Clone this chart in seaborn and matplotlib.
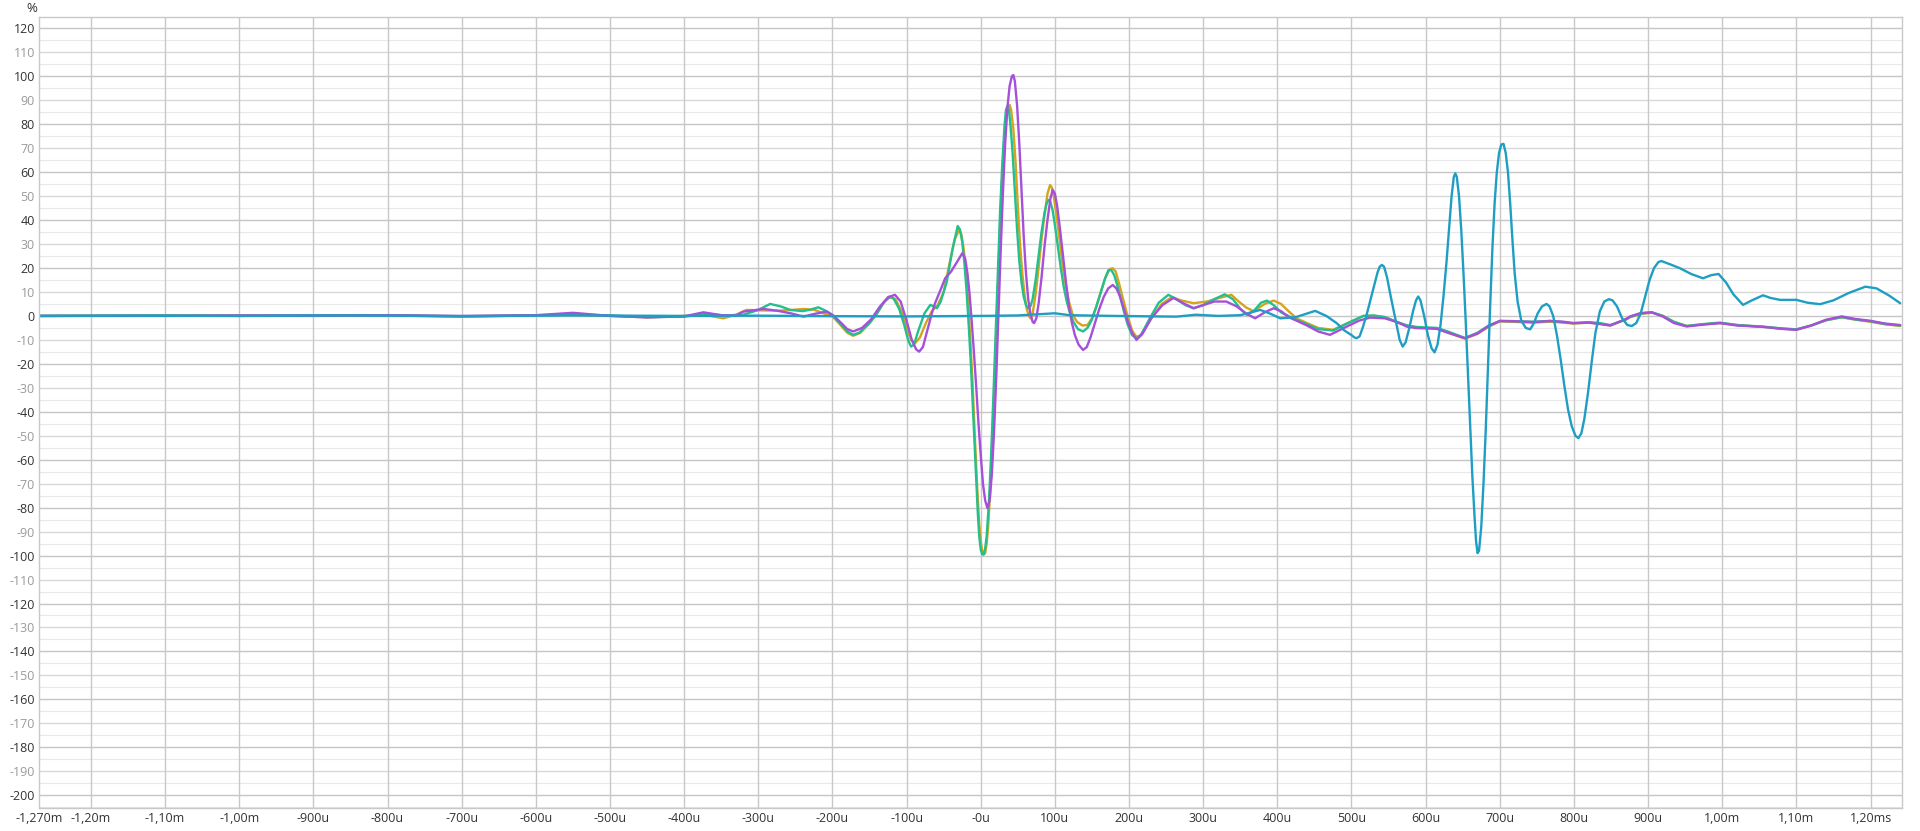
import pandas as pd
import numpy as np
import matplotlib
matplotlib.use('Agg')
import matplotlib.pyplot as plt
import seaborn as sns

# time in microseconds, amplitude in %
yellow_t = [-1270, -1100, -1000, -900, -800, -700, -600, -550, -500, -450, -400, -375, -360, -347, -330, -316, -295, -271, -255, -239, -225, -212, -200, -190, -180, -172, -162, -150, -140, -130, -122, -115, -107, -100, -94, -88.6, -82, -74, -66, -58, -50, -42, -35,
            -29, -26, -23, -20, -17, -14, -11, -8, -5, -2, 0, 2, 4, 6, 8, 10, 13, 16, 19, 22, 25, 28, 31, 34, 37, 39, 41, 44, 47, 50, 53, 56, 59, 62, 65, 67, 70, 74, 78, 82, 86, 90, 93.5, 96, 99, 103, 107, 111, 115, 119, 124, 130, 137, 144, 150, 156, 162, 168, 174, 178, 182, 187, 192, 198, 204,
            210, 216, 230, 244, 257.6, 270, 287, 305, 322, 338, 348, 358, 368, 383, 395, 405, 415, 426, 440, 455, 475, 495, 516, 530, 545, 560, 575, 588, 600, 615, 630, 653, 670, 685, 700, 720, 745, 768, 785, 799, 820, 835, 849, 870, 876, 890, 905, 920, 935, 952, 975, 997, 1020, 1056, 1080, 1100, 1120, 1140, 1161, 1180, 1199, 1220, 1240]
yellow_v = [0, 0.1, 0.2, 0, 0.3, -0.2, 0.3, 0.5, 0, -0.6, 0, 0.6, -0.3, -1, 0.5, 2.5, 2.3, 2.2, 2.5, 2.9, 2.6, 1.1, -0.2, -3.5, -7, -8.3, -7, -3, 1, 6, 7.8, 7, 2, -5, -10, -11.4, -9, -3, 2, 4.5, 10, 22, 32,
            35.9, 34, 28, 19, 6, -10, -28, -50, -70, -87, -94, -98, -99.5, -99, -95, -88, -72, -50, -25, 2, 28, 52, 70, 82, 87.5, 88, 86, 78, 64, 46, 30, 18, 9, 3, 0, -1, 1, 9, 20, 32, 42, 51, 54.6, 53.5, 49, 40, 30, 20, 12, 6, 0.5, -2.5, -4, -3.8, -1, 4, 10, 16, 19.5, 19.9, 18.5, 13, 7, 0, -6,
            -8.8, -8, -1, 5, 7.8, 6.5, 5.3, 6, 7.5, 8.8, 6, 3.5, 2, 5, 6.4, 5, 2, -1, -3, -5, -5.8, -3, 0, 0, -0.5, -2.4, -4, -4.8, -5, -5.2, -7, -9.5, -7.5, -4.5, -2.3, -2.5, -2.8, -2.4, -2.8, -3.2, -2.8, -3.2, -4, -1.5, -0.5, 0.8, 1.4, 0, -2.5, -4.2, -3.5, -3, -3.8, -4.6, -5.3, -5.7, -4, -1.8, -0.6, -1.6, -2.4, -3.5, -4.2]

green_t = [-1270, -1100, -1000, -900, -800, -700, -600, -550, -500, -450, -400, -370, -345, -320, -300, -284, -270, -257, -240, -230, -219, -208, -200, -190, -180, -172, -164, -150, -140, -132, -124, -118, -110, -103, -98, -94, -90, -84, -76, -68, -62, -59, -54, -46, -38,
           -31, -28, -25, -22, -19, -16, -13, -10, -7, -4, -2, 0, 2, 4, 6, 8, 11, 14, 17, 20, 23, 26, 29, 32, 34, 36, 38, 40, 43, 46, 49, 52, 55, 58, 61, 64, 67, 70, 74, 78, 82, 86, 89, 91.5, 94, 97, 100, 104, 108, 112, 116, 120, 125, 131, 138, 144, 150, 156, 162, 167, 172, 176, 180, 184, 188, 193, 198, 204,
           210, 216, 228, 240, 253, 264, 276, 287, 300, 315, 329, 340, 350, 359, 368, 378, 386, 395, 405, 426, 440, 455, 475, 495, 516, 530, 545, 560, 575, 588, 600, 615, 630, 653, 670, 685, 700, 720, 745, 768, 785, 799, 820, 835, 849, 870, 876, 890, 905, 920, 935, 952, 975, 997, 1020, 1056, 1080, 1100, 1120, 1140, 1161, 1180, 1199, 1220, 1240]
green_v = [0, 0.2, 0, 0.3, 0.2, -0.3, 0.2, 0.6, 0.2, -0.5, -0.3, 0.8, 0.2, 0.5, 2.5, 5, 4, 2.5, 2, 2.6, 3.6, 2, 0.4, -3, -6.5, -7.9, -7, -3, 1, 5, 8, 7.5, 3, -4, -10, -12.8, -12, -6, 1, 4.6, 3.8, 3.2, 6, 14, 28,
           37.5, 36, 31, 22, 10, -5, -22, -42, -63, -82, -92, -97.5, -99.5, -99.5, -97, -92, -78, -58, -34, -8, 18, 43, 63, 79, 86, 87.6, 86, 80, 68, 52, 36, 23, 14, 8, 4.5, 3.2, 4, 7, 15, 25, 35, 43, 47, 48.4, 47.5, 44, 38, 29, 20, 12, 6, 1.5, -2.5, -5.5, -6.5, -5, -1.5, 4, 10, 15, 19, 19.2, 17, 13, 8, 2, -3.5, -8,
           -9.3, -8, -1, 5.5, 8.8, 7, 4.5, 3.2, 4.5, 7, 9, 7, 3, 0.4, 2, 5.5, 6.4, 4.5, 1.5, -1.7, -3.5, -5.5, -6.1, -3, 0, 0.2, -0.5, -2.4, -4, -4.6, -4.8, -5, -6.5, -9.2, -7, -4, -2.1, -2.2, -2.4, -2.1, -2.6, -3, -2.6, -3, -3.8, -1.5, -0.3, 1, 1.5, 0, -2.5, -4.2, -3.4, -2.8, -3.8, -4.5, -5.2, -5.6, -4, -1.8, -0.5, -1.5, -2.2, -3.4, -4]

purple_t = [-1270, -1100, -1000, -900, -800, -700, -600, -550, -520, -500, -450, -400, -374, -350, -330, -320, -293, -275, -255, -239, -225, -208, -198, -188, -180, -172, -160, -148, -136, -125, -115.6, -108, -100, -93, -87, -83, -78, -72, -66, -61.6, -54, -48, -40, -33,
            -24.8, -21, -18, -15, -12, -9, -6, -3, 0, 3, 6, 9, 12, 15, 18, 21, 24, 27, 30, 33, 36, 39, 42, 44, 46, 49, 52, 55, 58, 61, 64, 67, 70, 72, 75, 78, 82, 86, 90, 94, 97, 100, 103, 107, 111, 115, 119, 123, 127, 132, 138, 143, 148, 154, 160, 166, 172, 178, 183, 188, 193, 198, 204,
            210, 218, 230, 245, 260, 272, 287, 300, 315, 331, 345, 358, 370, 383, 395, 405, 415, 426, 440, 455, 471, 490, 510, 525, 545, 560, 575, 588, 600, 615, 630, 653, 670, 685, 700, 720, 745, 768, 785, 799, 820, 835, 849, 870, 876, 890, 905, 920, 935, 952, 975, 997, 1020, 1056, 1080, 1100, 1120, 1140, 1161, 1180, 1199, 1220, 1240]
purple_v = [0, 0, 0.2, 0.1, 0.3, 0, 0.3, 1.3, 0.5, 0, -0.6, -0.2, 1.5, 0.3, 0.2, 1.8, 2.9, 2.2, 1, -0.3, 0.8, 1.8, 0, -3, -5.5, -6.5, -5, -1.5, 3.9, 7.8, 8.8, 6, -2, -10, -14, -14.9, -13, -6, 1, 5.3, 11, 15.7, 18.5, 22,
            26.2, 24, 18, 9, -3, -16, -30, -45, -58, -70, -77, -80.2, -77, -66, -48, -25, 2, 28, 52, 72, 87, 96, 100, 100.5, 98, 88, 72, 52, 33, 18, 7, 1, -2.5, -3, -1, 5, 16, 29, 40, 49, 52.6, 51, 46, 36, 25, 14, 4, -3, -8, -12, -14.2, -13, -9, -3, 3, 8, 11.5, 12.9, 11.5, 8, 3, -2, -7,
            -10, -7.5, -1, 4.5, 7.5, 5.5, 3.2, 4.5, 6, 6, 4, 1, -1, 1.5, 3.2, 2, -0.5, -2, -4, -6.5, -7.9, -5, -2, -0.7, -1, -2.4, -4.5, -5.1, -5.2, -5.4, -7, -9.3, -7.3, -4.2, -2.1, -2.2, -2.6, -2.1, -2.4, -3, -2.8, -3.4, -4, -1.3, -0.2, 1.2, 1.5, -0.3, -3, -4.4, -3.6, -3, -4, -4.6, -5.4, -5.8, -4, -1.6, -0.2, -1.3, -2, -3.2, -3.8]

blue_t = [-1270, -1150, -1000, -850, -700, -550, -400, -300, -200, -100, 0, 50, 100, 120, 180, 230, 264, 290, 320, 350, 377, 390, 404, 425, 451, 466, 480, 490, 500, 504, 507, 511, 515, 520, 525, 530, 535, 538, 541, 544, 548, 553, 557, 561, 565, 569, 573, 578, 583, 587, 590, 593, 598, 603, 608, 612,
          616, 620, 624, 628, 632, 635, 638, 640, 642, 645, 648, 651, 654, 657, 660, 663, 666, 668, 670, 672, 675, 678, 681, 684, 687, 690, 693, 696, 699, 702, 705, 708, 711, 714, 717, 720, 724, 729, 735, 741, 746, 751, 757, 763, 767, 772, 777, 782, 787, 792, 797, 802, 806, 810, 814, 819, 824, 829, 835, 841, 847, 852, 858, 865, 872, 878, 884, 890, 896, 902, 908, 914, 918,
          930, 943, 958, 974, 985, 995, 1005, 1015, 1028, 1040, 1055, 1065, 1078, 1100, 1115, 1132, 1150, 1170, 1193, 1208, 1225, 1240]
blue_v = [0, 0.1, 0, 0.2, -0.1, 0.2, 0, 0.1, -0.1, -0.2, 0, 0.2, 1.1, 0.3, 0, -0.2, -0.3, 0.5, 0, 0.3, 2.5, 1, -1, -0.5, 2.1, 0, -3, -6, -8, -9, -9.3, -8.5, -5, 0, 6, 12, 18, 20.5, 21.3, 20.5, 16, 8, 2, -4, -10, -12.8, -11, -5, 2, 6.5, 8.1, 6.5, 0, -8, -13.5, -15.2,
          -12, -4, 8, 22, 38, 50, 58, 59.5, 58, 50, 36, 18, -2, -24, -46, -67, -84, -94, -99, -98, -88, -70, -48, -22, 4, 28, 47, 60, 68, 71.5, 71.8, 68, 60, 47, 32, 18, 6, -2, -5, -5.6, -3, 1, 4, 5, 4, 0, -8, -18, -29, -39, -46, -50, -51, -49, -43, -32, -19, -7, 2, 6, 7, 6.5, 4, -1, -3.8, -4.2, -3, 1, 8, 15, 20, 22.5, 22.9,
          21.5, 19.9, 17.5, 15.7, 17, 17.5, 14, 9, 4.6, 6.5, 8.6, 7.5, 6.7, 6.7, 5.5, 4.9, 6.5, 9.5, 12.2, 11.5, 8.5, 5.3]

series_names = ['A', 'B', 'C', 'D']
colors = ['#d6a31e', '#22c08e', '#a550d8', '#1f9ec4']

x_ticks = [-1270, -1200, -1100, -1000, -900, -800, -700, -600, -500, -400, -300, -200, -100, 0,
           100, 200, 300, 400, 500, 600, 700, 800, 900, 1000, 1100, 1200]
x_labels = ['-1,270m', '-1,20m', '-1,10m', '-1,00m', '-900u', '-800u', '-700u', '-600u', '-500u',
            '-400u', '-300u', '-200u', '-100u', '-0u', '100u', '200u', '300u', '400u', '500u',
            '600u', '700u', '800u', '900u', '1,00m', '1,10m', '1,20ms']
y_ticks = list(range(-200, 121, 10))

frames = []
for name, t, v in zip(series_names,
                      [yellow_t, green_t, purple_t, blue_t],
                      [yellow_v, green_v, purple_v, blue_v]):
    frames.append(pd.DataFrame({'t': t, 'v': v, 'series': name}))
df = pd.concat(frames, ignore_index=True)

sns.set_style('white')
plt.rcParams['font.family'] = ['Open Sans', 'DejaVu Sans']

fig = plt.figure(figsize=(19.2, 8.31), dpi=100)
ax = fig.add_axes([39 / 1920, 1 - 807.7 / 831, (1901.7 - 39) / 1920, (807.7 - 17.3) / 831])

# grid
for yv in range(-205, 125, 5):
    if yv % 20 == 0:
        c, lw = '#c6c6c6', 1.0
    elif yv % 10 == 0:
        c, lw = '#d8d8d8', 1.0
    else:
        c, lw = '#e8e8e8', 0.8
    ax.axhline(yv, color=c, lw=lw, zorder=0)
for xv in x_ticks[1:]:
    ax.axvline(xv, color='#c8c8c8', lw=1.0, zorder=0)

sns.lineplot(data=df, x='t', y='v', hue='series', hue_order=series_names,
             palette=colors, estimator=None, sort=False, legend=False,
             linewidth=1.7, ax=ax)

ax.set_xlim(-1270, 1242)
ax.set_ylim(-205.2, 124.6)
ax.set_xlabel('')
ax.set_ylabel('')

ax.set_xticks(x_ticks)
ax.set_xticklabels(x_labels, fontsize=9, color='#333333')
ax.set_yticks(y_ticks)
ax.set_yticklabels([str(y) for y in y_ticks], fontsize=9)
for lab, y in zip(ax.get_yticklabels(), y_ticks):
    lab.set_color('#333333' if y % 20 == 0 else '#9a9a9a')
ax.tick_params(axis='both', length=0, pad=3)

for s in ax.spines.values():
    s.set_color('#c8c8c8')
    s.set_linewidth(1.0)

fig.text(32 / 1920, 1 - 8 / 831, '%', fontsize=9.5, color='#333333', ha='center', va='center')

fig.savefig('out.png', dpi=100, facecolor='white')
